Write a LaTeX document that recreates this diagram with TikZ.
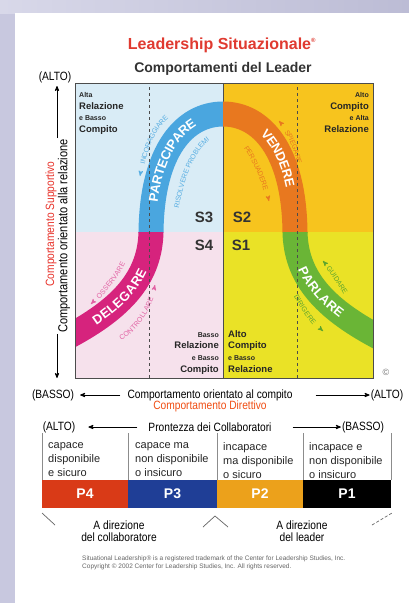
\documentclass[tikz,border=0pt]{standalone}
\usepackage{fontspec}
\setmainfont{Liberation Sans}
\newfontfamily\condfont[FakeStretch=0.85]{Liberation Sans}
\usetikzlibrary{arrows,positioning,decorations.text,decorations.markings}

\definecolor{lavbg}{HTML}{C8C8DF}
\definecolor{lavlight}{HTML}{D8D8E9}
\definecolor{lavdark}{HTML}{BCBCD5}
\definecolor{titlered}{HTML}{E03A30}
\definecolor{supred}{HTML}{E8322A}
\definecolor{dirred}{HTML}{F04E14}
\definecolor{quadTL}{HTML}{D9ECF6}
\definecolor{quadBL}{HTML}{F6E1EC}
\definecolor{quadTR}{HTML}{F7C41E}
\definecolor{quadBR}{HTML}{EAE226}
\definecolor{bandblue}{HTML}{4AA6DF}
\definecolor{bandmag}{HTML}{D6237D}
\definecolor{bandorange}{HTML}{E8781F}
\definecolor{bandgreen}{HTML}{6AB536}
\definecolor{smallblue}{HTML}{58AEE2}
\definecolor{smallmag}{HTML}{E262A4}
\definecolor{smallgreen}{HTML}{5DA52E}
\definecolor{pfour}{HTML}{D93A17}
\definecolor{pthree}{HTML}{1F3E96}
\definecolor{ptwo}{HTML}{ECA11B}

\newcommand{\bandfont}{\fontsize{13}{13}\selectfont\bfseries}
\newcommand{\tinyband}{\fontsize{7}{7}\selectfont}
\newcommand{\qsmall}[1]{{\fontsize{7}{11.8}\selectfont #1}}
\newcommand{\bellpath}{(55,344) -- (75,333) .. controls (125,305) and (150,275) .. (151,232)
  .. controls (152,150) and (185,114) .. (223,114) .. controls (261,114) and (294,150) .. (295,232)
  .. controls (296,275) and (321,305) .. (371,333) -- (391,344)}

\begin{document}
\begin{tikzpicture}[x=1pt,y=-1pt,>=stealth',
    axis text/.style={font=\condfont\fontsize{12}{12}\selectfont, inner sep=1pt},
    axis arrow/.style={->, line width=0.8pt},
    quad text/.style={font=\bfseries\fontsize{9.5}{11.8}\selectfont, inner sep=0pt, text=black!85},
    slabel/.style={font=\bfseries\fontsize{15}{15}\selectfont, text=black!80, inner sep=0pt},
    band/.style={line width=25pt},
    band label/.style 2 args={postaction={decorate, decoration={text along path,
        text={|\bandfont|#1}, text color=white, text align={#2}, raise=-4.6pt}}},
    small label/.style 2 args={color=#2, line width=0.9pt, postaction={decorate,
        decoration={text along path, text={|\tinyband|#1}, text color=#2,
        text align=center, raise=-2.5pt}}},
    arrow end/.style={postaction={decorate, decoration={markings,
        mark=at position 1 with {\arrow{stealth'}}}}},
    arrow start/.style={postaction={decorate, decoration={markings,
        mark=at position 0 with {\arrowreversed{stealth'}}}}},
    desc/.style={font=\fontsize{11}{14}\selectfont, align=left, inner sep=0pt, text=black!85},
    pcell/.style={minimum height=28pt, inner sep=0pt, text=white,
        font=\bfseries\fontsize{14}{14}\selectfont},
    deco line/.style={draw=black!60, line width=0.7pt}]

  % background and panel
  \useasboundingbox (0,0) rectangle (409,603);
  \fill[lavbg] (0,0) rectangle (409,603);
  \shade[left color=lavlight, right color=lavdark] (0,0) rectangle (409,13);
  \fill[white] (15,13) rectangle (409,603);

  % titles
  \node[font=\bfseries\fontsize{16}{18}\selectfont, text=titlered] (title) at (222,45)
    {Leadership Situazionale\textsuperscript{\fontsize{6}{6}\selectfont ®}};
  \node[font=\bfseries\fontsize{14}{16}\selectfont, text=black!80] (subtitle) at (223,69)
    {Comportamenti del Leader};

  % quadrants
  \fill[quadTL] (75,83) rectangle (223,232);
  \fill[quadTR] (223,83) rectangle (373,232);
  \fill[quadBL] (75,232) rectangle (223,378);
  \fill[quadBR] (223,232) rectangle (373,378);
  \draw[black!70, line width=0.8pt] (223,83) -- (223,378);

  % the bell curve, one colour per quadrant
  \foreach \xa/\ya/\xb/\yb/\qc in {75/83/223/232/bandblue, 223/83/373/232/bandorange,
      75/232/223/378/bandmag, 223/232/373/378/bandgreen}{
    \begin{scope}
      \clip (\xa,\ya) rectangle (\xb,\yb);
      \draw[band, \qc] \bellpath;
    \end{scope}
  }

  \draw[black!70, dashed, line width=0.8pt] (149,87) -- (149,378);
  \draw[black!70, dashed, line width=0.8pt] (297,87) -- (297,378);
  \draw[black!70, line width=1pt] (75,83) rectangle (373,378);

  % labels on the curve
  \path[band label={DELEGARE}{left indent=22pt}] (75,333) .. controls (125,305) and (150,275) .. (151,232);
  \path[band label={PARTECIPARE}{center}] (151,232) .. controls (152,150) and (185,114) .. (223,114);
  \path[band label={VENDERE}{center}] (223,114) .. controls (261,114) and (294,150) .. (295,232);
  \path[band label={PARLARE}{left indent=36pt}] (295,232) .. controls (296,275) and (321,305) .. (371,333);

  \path[small label={INCORAGGIARE}{smallblue}, arrow start] (140,176) .. controls (146,140) and (158,119) .. (177,110);
  \path[small label={RISOLVERE PROBLEMI}{smallblue}, arrow end] (174,222) .. controls (181,175) and (195,138) .. (221,133);
  \path[small label={SPIEGARE}{bandorange}, arrow start] (279,121) .. controls (290,133) and (298,150) .. (302,176);
  \path[small label={PERSUADERE}{bandorange}, arrow end] (239,138) .. controls (252,153) and (263,175) .. (269,201);
  \path[small label={OSSERVARE}{smallmag}, arrow start] (91,304) .. controls (105,290) and (118,275) .. (127,254);
  \path[small label={CONTROLLARE}{smallmag}, arrow end] (108,344) .. controls (130,337) and (148,315) .. (155,285);
  \path[small label={GUIDARE}{smallgreen}, arrow start] (323,261) .. controls (333,272) and (342,287) .. (350,300);
  \path[small label={DIRIGERE}{smallgreen}, arrow end] (291,285) .. controls (298,300) and (308,318) .. (323,331);

  % quadrant texts
  \node[quad text, anchor=north west, align=left] (tlq) at (79,92)
    {\qsmall{Alta}\\Relazione\\\qsmall{e Basso}\\Compito};
  \node[quad text, anchor=north east, align=right] (trq) at (369,92)
    {\qsmall{Alto}\\Compito\\\qsmall{e Alta}\\Relazione};
  \node[quad text, anchor=north east, align=right] (blq) at (219,332)
    {\qsmall{Basso}\\Relazione\\\qsmall{e Basso}\\Compito};
  \node[quad text, anchor=north west, align=left] (brq) at (228,330)
    {Alto\\Compito\\\qsmall{e Basso}\\Relazione};

  \node[slabel] (s3) at (204,217) {S3};
  \node[slabel] (s2) at (242,217) {S2};
  \node[slabel] (s4) at (204,245) {S4};
  \node[slabel] (s1) at (241,245) {S1};
  \node[text=black!55, font=\fontsize{9}{9}\selectfont] (copy) at (386,372) {©};

  % vertical axis
  \node[axis text] (altoV) at (55,77) {(ALTO)};
  \node[axis text, rotate=90, font=\condfont\fontsize{13}{13}\selectfont] (vrel) at (64,236)
    {Comportamento orientato alla relazione};
  \node[axis text, rotate=90, text=supred] (vsup) at (51,224) {Comportamento Supportivo};
  \coordinate (vtop) at (57,86);
  \coordinate (vbot) at (57,378);
  \draw[axis arrow] (vrel.east -| vtop) -- (vtop);
  \draw[axis arrow] (vrel.west -| vbot) -- (vbot);

  % horizontal axis
  \node[axis text] (bassoH) at (53,395) {(BASSO)};
  \node[axis text] (hcomp) at (210,395) {Comportamento orientato al compito};
  \node[axis text] (altoH) at (387,395) {(ALTO)};
  \node[axis text, text=dirred, below=-2pt of hcomp] (hdir) {Comportamento Direttivo};
  \draw[axis arrow] ([xshift=-6pt]hcomp.west) -- ([xshift=5pt]bassoH.east);
  \draw[axis arrow] ([xshift=22pt]hcomp.east) -- (altoH.west);

  % readiness scale
  \node[axis text] (altoP) at (59,427) {(ALTO)};
  \node[axis text] (pront) at (210,427) {Prontezza dei Collaboratori};
  \node[axis text] (bassoP) at (363,427) {(BASSO)};
  \draw[axis arrow] ([xshift=-10pt]pront.west) -- ([xshift=12pt]altoP.east);
  \draw[axis arrow] ([xshift=20pt]pront.east) -- (bassoP.west);

  \foreach \cx in {42,128,217,303,391}
    \draw[black!45, line width=0.6pt] (\cx,433) -- (\cx,480);
  \node[desc, anchor=north west] (d4) at (48,442) {capace\\disponibile\\e sicuro};
  \node[desc, anchor=north west] (d3) at (135,442) {capace ma\\non disponibile\\o insicuro};
  \node[desc, anchor=north west] (d2) at (223,442) {incapace\\ma disponibile\\o sicuro};
  \node[desc, anchor=north west] (d1) at (309,442) {incapace e\\non disponibile\\o insicuro};

  \node[pcell, fill=pfour, minimum width=86pt] (p4) at (85,494) {P4};
  \node[pcell, fill=pthree, minimum width=89pt] (p3) at (172.5,494) {P3};
  \node[pcell, fill=ptwo, minimum width=86pt] (p2) at (260,494) {P2};
  \node[pcell, fill=black, minimum width=88pt] (p1) at (347,494) {P1};

  % who leads
  \draw[deco line] (42,513) -- (55,525);
  \draw[deco line] (203,527) -- (215,516) -- (228,527);
  \draw[deco line, densely dashed] (372,525) -- (392,513);
  \node[axis text, align=center] (dircol) at (119,531) {A direzione\\del collaboratore};
  \node[axis text, align=center] (dirlead) at (302,531) {A direzione\\del leader};

  \node[anchor=north west, align=left, inner sep=0pt, text=black!60,
    font=\fontsize{6.5}{8}\selectfont] (foot) at (82,556)
    {Situational Leadership® is a registered trademark of the Center for Leadership Studies, Inc.\\
     Copyright © 2002 Center for Leadership Studies, Inc. All rights reserved.};
\end{tikzpicture}
\end{document}
